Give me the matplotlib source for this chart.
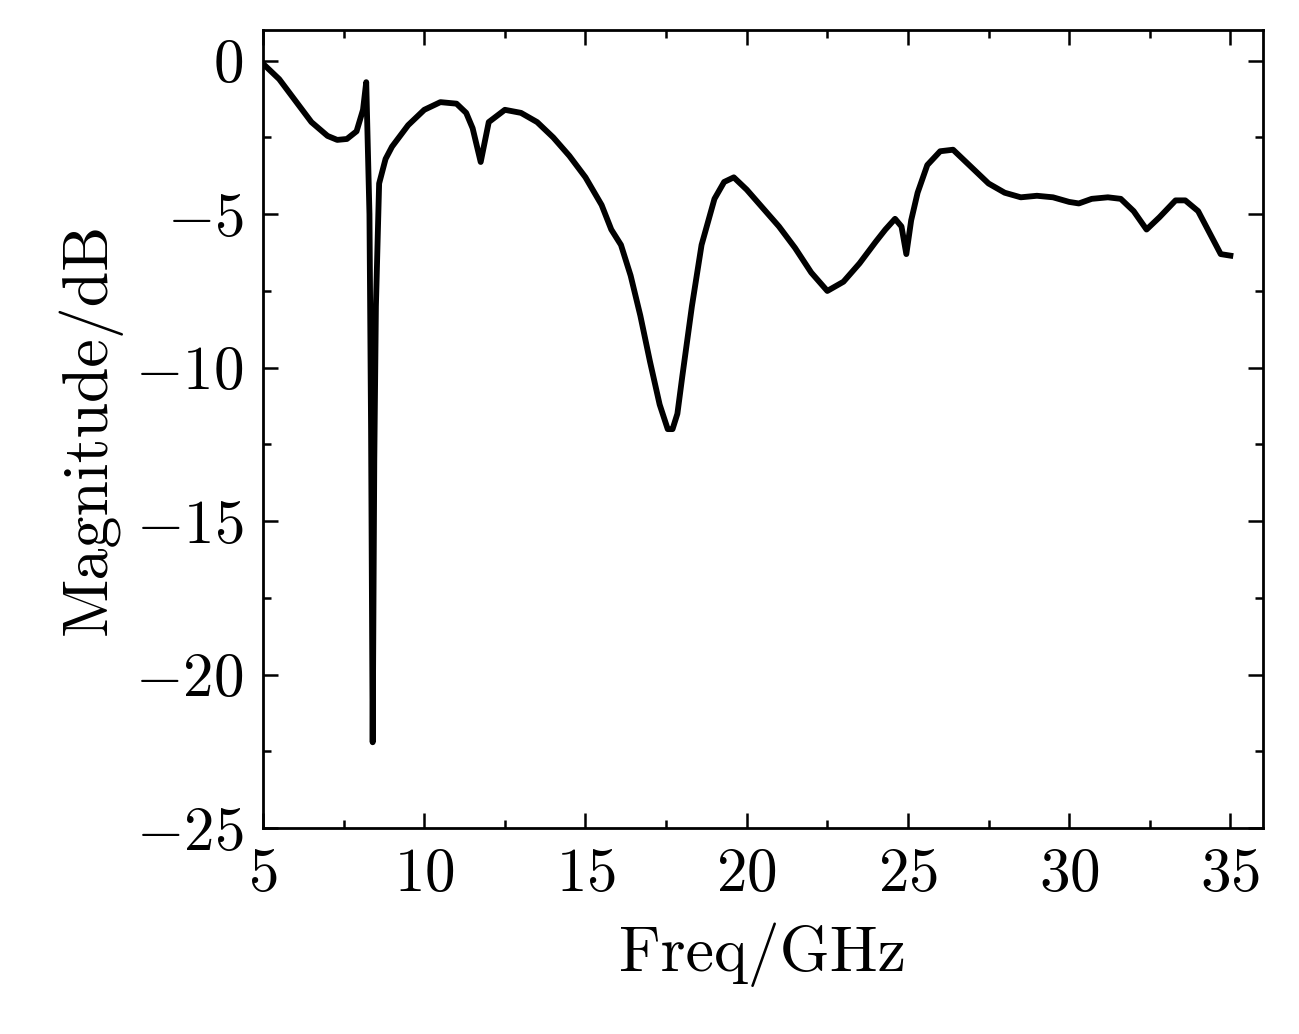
import numpy as np
import matplotlib
matplotlib.use("Agg")
import matplotlib.pyplot as plt
from matplotlib.ticker import MultipleLocator

freq = [5, 5.5, 6, 6.5, 7, 7.3, 7.6, 7.9, 8.1, 8.2, 8.3, 8.35, 8.4, 8.45, 8.5, 8.6, 8.8, 9, 9.5, 10, 10.5, 11, 11.3, 11.5, 11.75, 12, 12.5, 13, 13.5, 14, 14.5, 15, 15.5, 15.8, 16.1, 16.4, 16.7, 17, 17.3, 17.55, 17.7, 17.85, 18, 18.3, 18.6, 19, 19.3, 19.6, 20, 20.5, 21, 21.5, 22, 22.5, 23, 23.5, 24, 24.3, 24.6, 24.8, 24.95, 25.1, 25.3, 25.6, 26, 26.4, 27, 27.5, 28, 28.5, 29, 29.5, 30, 30.3, 30.7, 31.2, 31.6, 32, 32.4, 32.8, 33.3, 33.6, 34, 34.3, 34.7, 35]
mag = [-0.1, -0.6, -1.3, -2.0, -2.45, -2.58, -2.55, -2.3, -1.6, -0.7, -5.0, -12.0, -22.2, -13.0, -8.0, -4.0, -3.2, -2.8, -2.1, -1.6, -1.35, -1.4, -1.7, -2.2, -3.3, -2.0, -1.6, -1.7, -2.0, -2.5, -3.1, -3.8, -4.7, -5.5, -6.0, -7.0, -8.3, -9.8, -11.2, -12.0, -12.0, -11.5, -10.3, -8.0, -6.0, -4.5, -3.95, -3.8, -4.2, -4.8, -5.4, -6.1, -6.9, -7.5, -7.2, -6.6, -5.9, -5.5, -5.15, -5.4, -6.3, -5.2, -4.3, -3.4, -2.95, -2.9, -3.5, -4.0, -4.3, -4.45, -4.4, -4.45, -4.6, -4.65, -4.5, -4.45, -4.5, -4.9, -5.5, -5.1, -4.55, -4.55, -4.9, -5.5, -6.3, -6.35]

plt.rcParams['font.family'] = ['cmr10', 'DejaVu Serif']
plt.rcParams['mathtext.fontset'] = 'cm'
plt.rcParams['axes.formatter.use_mathtext'] = True

fig = plt.figure(figsize=(12.99, 10.34), dpi=100)
ax = fig.add_axes([0.2025, 0.199, 0.7695, 0.772])
ax.plot(freq, mag, color='black', lw=4.2, solid_joinstyle='round')
ax.set_xlim(5, 36)
ax.set_ylim(-25, 1)
ax.xaxis.set_major_locator(MultipleLocator(5))
ax.xaxis.set_minor_locator(MultipleLocator(2.5))
ax.yaxis.set_major_locator(MultipleLocator(5))
ax.yaxis.set_minor_locator(MultipleLocator(2.5))
ax.tick_params(which='both', direction='in', top=True, right=True, labelsize=44, width=1.8)
ax.tick_params(which='major', length=11, pad=14)
ax.tick_params(which='minor', length=6)
for s in ax.spines.values():
    s.set_linewidth(2)
ax.set_xlabel('Freq/GHz', fontsize=46, labelpad=14)
ax.set_ylabel('Magnitude/dB', fontsize=46, labelpad=10)
fig.savefig('out.png', dpi=100)
